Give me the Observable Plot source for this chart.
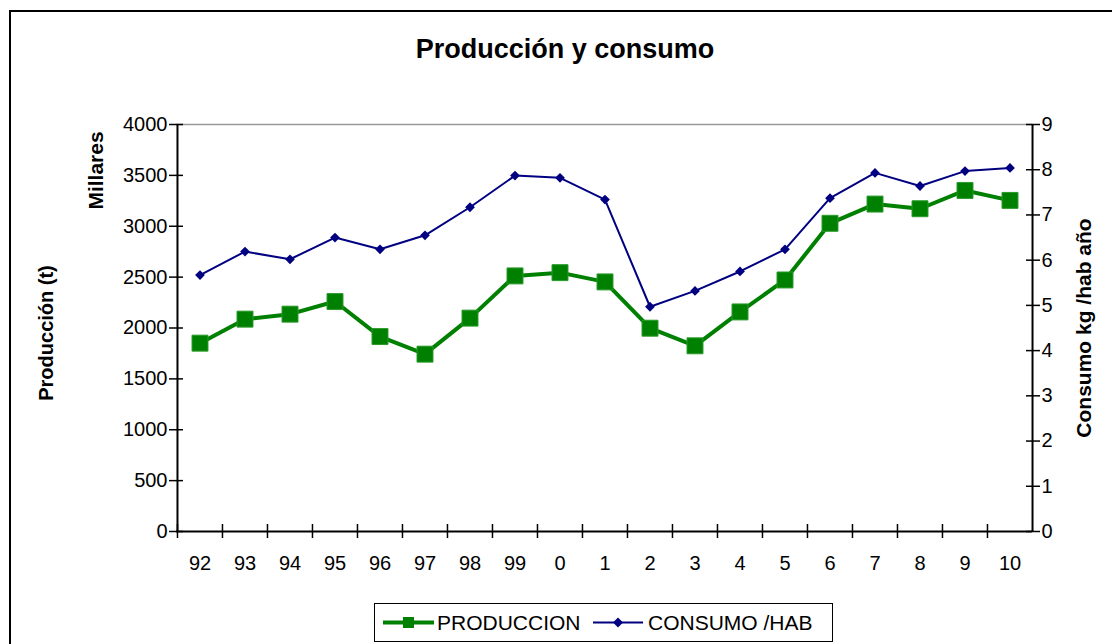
<!DOCTYPE html>
<html><head><meta charset="utf-8">
<script src="https://cdn.jsdelivr.net/npm/d3@7"></script>
<script src="https://cdn.jsdelivr.net/npm/@observablehq/plot@0.6"></script>
<style>
body{margin:0;background:#fff;overflow:hidden;font-family:"Liberation Sans",Arial,sans-serif;}
#wrap{position:relative;width:1112px;height:644px;overflow:hidden;background:#fff;}
#frame{position:absolute;left:9px;top:10px;width:1200px;height:700px;border:2px solid #000;}
#title{position:absolute;top:36px;left:565px;transform:translateX(-50%);font-size:27px;font-weight:bold;line-height:1;white-space:nowrap;}
#chart{position:absolute;left:0;top:0;}
#legend{position:absolute;left:374px;top:603px;width:459px;height:39px;box-sizing:border-box;border:1.5px solid #000;background:#fff;}
#legend svg{position:absolute;left:0;top:0;}
#legend span{position:absolute;top:8px;font-size:21px;line-height:1;white-space:nowrap;}
</style></head>
<body>
<div id="wrap">
  <div id="frame"></div>
  <div id="chart"></div>
  <div id="title">Producción y consumo</div>
  <div id="legend">
    <svg width="459" height="39">
      <line x1="8" x2="59" y1="18.5" y2="18.5" stroke="#008000" stroke-width="4"/>
      <rect x="28" y="13" width="11" height="11" fill="#008000"/>
      <line x1="218" x2="268" y1="18.5" y2="18.5" stroke="#000080" stroke-width="2"/>
      <path d="M243,13.5 L248,18.5 L243,23.5 L238,18.5 Z" fill="#000080"/>
    </svg>
    <span style="left:62px">PRODUCCION</span>
    <span style="left:273px">CONSUMO /HAB</span>
  </div>
</div>
<script>
const years = ["92","93","94","95","96","97","98","99","0","1","2","3","4","5","6","7","8","9","10"];
const produccion = [1851,2087,2136,2260,1916,1743,2097,2512,2544,2453,1998,1825,2158,2472,3029,3218,3172,3352,3254];
const consumo = [5.67,6.19,6.02,6.50,6.24,6.55,7.17,7.87,7.82,7.34,4.97,5.32,5.75,6.24,7.37,7.93,7.64,7.97,8.04];
const leftTicks = [0,500,1000,1500,2000,2500,3000,3500,4000];
const rightTicks = [0,1,2,3,4,5,6,7,8,9];

const K = 4000 / 9;
const data = years.map((y, i) => ({year: y, prod: produccion[i], cons: consumo[i] * K}));

const W = 1112, H = 644, mL = 176, mR = 80, mT = 124, mB = 113;
const bw = (W - mL - mR) / years.length;
const FS = 20;

const chart = Plot.plot({
  width: W, height: H,
  marginLeft: mL, marginRight: mR, marginTop: mT, marginBottom: mB,
  style: {fontFamily: '"Liberation Sans", Arial, sans-serif', fontSize: "20px", background: "transparent", color: "#000", overflow: "visible"},
  x: {type: "band", domain: years, padding: 0},
  y: {domain: [0, 4000]},
  marks: [
    Plot.ruleY([4000], {stroke: "#999", strokeWidth: 1.5}),
    // left axis
    Plot.axisY({anchor: "left", ticks: leftTicks, tickFormat: d => String(d), tickSize: 7, tickPadding: 2, label: null, stroke: "#000", strokeWidth: 1.5, fontSize: FS}),
    Plot.axisY({anchor: "left", ticks: leftTicks, tickSize: 7, dx: 7, tickFormat: () => "", label: null, stroke: "#000", strokeWidth: 1.5}),
    // right axis
    Plot.axisY({anchor: "right", ticks: rightTicks.map(v => v * K), tickFormat: v => String(Math.round(v / K)), tickSize: 7, tickPadding: 2, label: null, stroke: "#000", strokeWidth: 1.5, fontSize: FS}),
    Plot.axisY({anchor: "right", ticks: rightTicks.map(v => v * K), tickFormat: () => "", tickSize: 7, dx: -7, label: null, stroke: "#000", strokeWidth: 1.5}),
    // x axis labels and boundary ticks
    Plot.axisX({ticks: years, tickSize: 0, tickPadding: 24, label: null, fontSize: FS}),
    Plot.axisX({ticks: years, tickSize: 7, dx: -bw / 2, tickFormat: () => "", label: null, stroke: "#000", strokeWidth: 1.5}),
    Plot.axisX({ticks: years, tickSize: 7, dx: -bw / 2, dy: -7, tickFormat: () => "", label: null, stroke: "#000", strokeWidth: 1.5}),
    // axis lines
    Plot.ruleY([0], {stroke: "#000", strokeWidth: 2}),
    Plot.ruleX([years[0]], {dx: -bw / 2, stroke: "#000", strokeWidth: 2}),
    Plot.ruleX([years[years.length - 1]], {dx: bw / 2, stroke: "#000", strokeWidth: 2}),
    // axis titles
    Plot.text(["Producción (t)"], {frameAnchor: "left", textAnchor: "middle", dx: -130, dy: 5, rotate: -90, fontWeight: "bold", fontSize: 20}),
    Plot.text(["Millares"], {frameAnchor: "top-left", textAnchor: "middle", dx: -88, dy: 46, rotate: -90, fontWeight: "bold", fontSize: 21}),
    Plot.text(["Consumo kg /hab año"], {frameAnchor: "right", textAnchor: "middle", dx: 52, rotate: -90, fontWeight: "bold", fontSize: 21}),
    // series
    Plot.line(data, {x: "year", y: "cons", stroke: "#000080", strokeWidth: 2}),
    Plot.dot(data, {x: "year", y: "cons", symbol: "diamond2", r: 4.4, fill: "#000080", stroke: "none"}),
    Plot.line(data, {x: "year", y: "prod", stroke: "#008000", strokeWidth: 4}),
    Plot.dot(data, {x: "year", y: "prod", symbol: "square", r: 9, fill: "#008000", stroke: "#2a9a2a", strokeWidth: 1})
  ]
});
document.getElementById("chart").appendChild(chart);
</script>
</body></html>
